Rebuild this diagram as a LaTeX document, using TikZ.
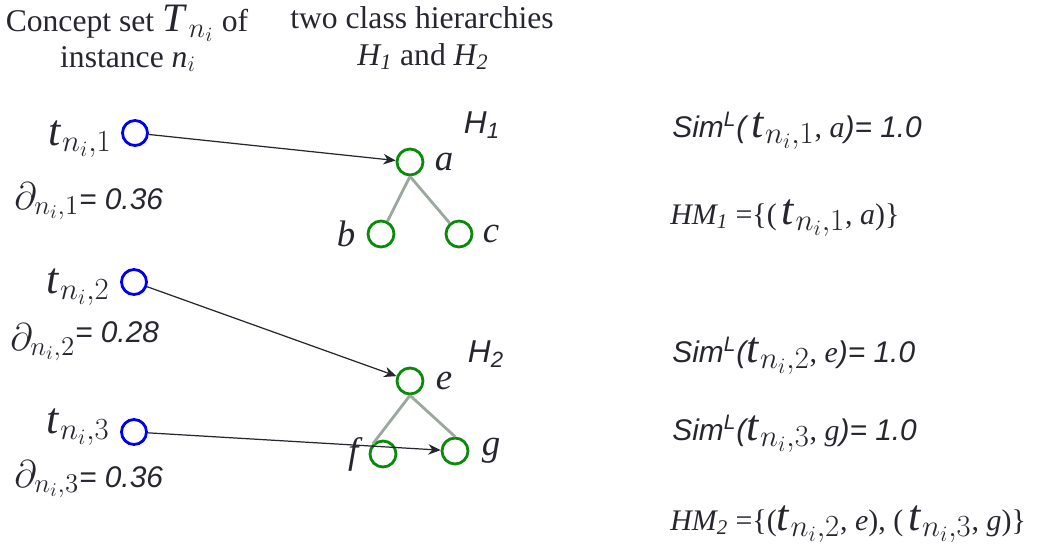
\RequirePackage{fix-cm}
\documentclass[tikz,border=0pt]{standalone}
\usepackage{fontspec}
\setmainfont{Liberation Serif}
\newfontfamily\arialf{Liberation Sans}
\usetikzlibrary{arrows.meta, positioning}
\definecolor{conceptblue}{HTML}{0000F0}
\definecolor{classgreen}{HTML}{0A8A0A}
\definecolor{isagray}{HTML}{9AA89E}
\definecolor{inkdark}{HTML}{26262E}
\newcommand{\bigt}[1]{{\fontsize{25}{26}\selectfont\textit{t}\kern0.5pt$_{n_i,#1}$}}
\newcommand{\wgt}[1]{{\fontsize{22}{24}\selectfont$\partial_{n_i,#1}$}}

\begin{document}
\begin{tikzpicture}[x=0.02cm, y=-0.02cm,
  concept/.style={circle, draw=conceptblue, line width=1.6pt, minimum size=0.5cm, inner sep=0pt},
  klass/.style={circle, draw=classgreen, line width=1.6pt, minimum size=0.52cm, inner sep=0pt},
  isa/.style={isagray, line width=1.6pt},
  arr/.style={-{Stealth[length=7pt, width=6pt]}, line width=0.7pt, inkdark},
  head/.style={font=\fontsize{18}{21.5}\selectfont, text=inkdark, anchor=base, inner sep=0pt},
  tlab/.style={text=inkdark, anchor=base east, inner sep=0pt},
  wlab/.style={font=\arialf\itshape\fontsize{17}{20}\selectfont, text=inkdark, anchor=base west, inner sep=0pt},
  letter/.style={font=\itshape\fontsize{21}{22}\selectfont, text=inkdark, inner sep=0pt},
  hlab/.style={font=\arialf\itshape\fontsize{18}{20}\selectfont, text=inkdark, inner sep=0pt},
  simtext/.style={font=\fontsize{17}{20}\selectfont, text=inkdark, anchor=base west, inner sep=0pt}]
\useasboundingbox (0,0) rectangle (1037,552);

% headers
\node[head] (hset) at (127,31) {Concept set {\fontsize{23}{24}\selectfont\textit{T}\kern1pt$_{n_i}$} of};
\node[head] (hinst) at (128,67) {instance \textit{n}$_i$};
\node[head] (hhier) at (422,28) {two class hierarchies};
\node[head] (hnames) at (423,65) {\textit{H\textsubscript{1}} and \textit{H\textsubscript{2}}};

% concepts of the instance
\node[concept] (t1) at (135,133) {};
\node[concept] (t2) at (134,282) {};
\node[concept] (t3) at (134,432) {};
\node[tlab] (lt1) at (112,145) {\bigt{1}};
\node[tlab] (lt2) at (110,293) {\bigt{2}};
\node[tlab] (lt3) at (110,433) {\bigt{3}};
\node[wlab] (w1) at (14,209) {\wgt{1}= 0.36};
\node[wlab] (w2) at (10,350) {\wgt{2}\raisebox{4pt}{= 0.28}};
\node[wlab] (w3) at (14,487) {\wgt{3}= 0.36};

% hierarchy H1
\node[klass] (a) at (410,162) {};
\node[klass] (b) at (381,234) {};
\node[klass] (c) at (459,234) {};
\node[letter, right=0.2cm of a] (la) {a};
\node[letter, left=0.22cm of b] (lb) {b};
\node[letter, right=0.18cm of c] (lc) {c};
\node[hlab] (h1) at (482,125) {H\textsubscript{1}};
\draw[isa] (a.south) -- (b);
\draw[isa] (a.south) -- (c);

% hierarchy H2
\node[klass] (e) at (410,381) {};
\node[klass] (f) at (383,454) {};
\node[klass] (g) at (455,451) {};
\node[letter, right=0.22cm of e] (le) {e};
\node[letter, left=0.2cm of f] (lf) {f};
\node[letter, right=0.24cm of g] (lg) {g};
\node[hlab] (h2) at (486,354) {H\textsubscript{2}};
\draw[isa] (e.south) -- (f.north west);
\draw[isa] (e.south) -- (g.north);

% mappings
\draw[arr] (t1) -- (a);
\draw[arr] (t2) -- (e);
\draw[arr] (t3) -- (g);

% similarities and matches
\node[simtext] (sim1) at (672,137) {{\arialf\itshape Sim\textsuperscript{L}(}\,\bigt{1}, \textit{a}{\arialf\itshape )= 1.0}};
\node[simtext] (hm1) at (670,224) {\textit{HM\textsubscript{1}} =\{(\,\bigt{1}, \textit{a})\}};
\node[simtext] (sim2) at (672,362) {{\arialf\itshape Sim\textsuperscript{L}(}\bigt{2}, \textit{e}{\arialf\itshape )= 1.0}};
\node[simtext] (sim3) at (672,440) {{\arialf\itshape Sim\textsuperscript{L}(}\bigt{3}, \textit{g}{\arialf\itshape )= 1.0}};
\node[simtext] (hm2) at (670,530) {\textit{HM\textsubscript{2}} =\{(\bigt{2}, \textit{e}), (\,\bigt{3}, \textit{g})\}};
\end{tikzpicture}
\end{document}
